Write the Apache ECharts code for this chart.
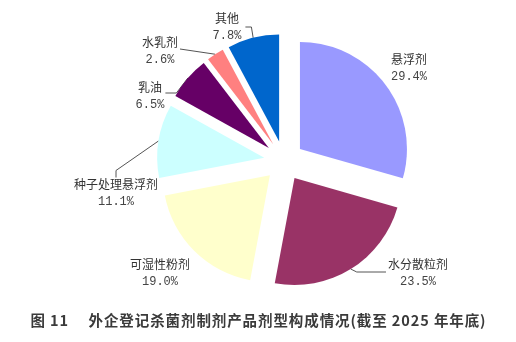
<!DOCTYPE html>
<html><head><meta charset="utf-8">
<script src="https://cdn.jsdelivr.net/npm/echarts@6/dist/echarts.min.js"></script>
<style>html,body{margin:0;padding:0;background:#fff}#c{width:516px;height:342px}</style>
</head><body><div id="c"></div>
<script>
const categories = ['悬浮剂','水分散粒剂','可湿性粉剂','种子处理悬浮剂','乳油','水乳剂','其他'];
const values = [29.4, 23.5, 19.0, 11.1, 6.5, 2.6, 7.8];
const colors = ['#9999ff','#993366','#ffffcc','#ccffff','#660066','#ff8080','#0066cc'];
const titleText = '图 11\u3000 外企登记杀菌剂制剂产品剂型构成情况(截至 2025 年年底)';
// layout only: label centres and which slices have leader lines
const labelCenter = [[409,68],[418,273],[160,273],[116,193],[150,96],[160,51],[227,27]];
const lineShow = [false,true,false,true,true,true,true];
const OFFSET = 20;

const spacedTitle = Array.from(titleText).join('\u200A');

// selected-offset translation of each slice (labels move with their slice)
const total = values.reduce((a,b)=>a+b,0);
const sliceShift = (()=>{let acc=0;return values.map(v=>{const a=(acc+v/2)/total*2*Math.PI;acc+=v;return [OFFSET*Math.sin(a),-OFFSET*Math.cos(a)];});})();

function leader(i, p0, L, R, T, cx, cy){
  switch(i){
    case 1: return [p0,[p0[0]+6,cy-1],[L-2,cy-1]];
    case 3: return [p0,[cx,T-8],[cx,T-1]];
    case 4: return [p0,[R+12,cy-3],[R+1,cy-3]];
    case 5: return [p0,[R+2,cy-2]];
    case 6: return [p0,[R+10,cy],[R+4,cy]];
  }
  return null;
}

const chart = echarts.init(document.getElementById('c'), null, {renderer:'canvas'});
chart.setOption({
  animation:false,
  backgroundColor:'#fff',
  title:{text:spacedTitle,left:'center',top:308,textStyle:{fontFamily:'Noto Sans CJK SC',fontSize:14.5,fontWeight:'bold',color:'#3a3a3a'}},
  series:[{
    type:'pie',
    center:[284,161],
    radius:[0,107],
    startAngle:90,
    clockwise:true,
    selectedMode:'multiple',
    selectedOffset:OFFSET,
    avoidLabelOverlap:false,
    itemStyle:{borderWidth:0},
    label:{
      show:true,
      position:'outside',
      alignTo:'none',
      distanceToLabelLine:0,
      formatter:p=>'{n|'+p.name+'}\n{v|'+p.value.toFixed(1)+'%}',
      rich:{
        n:{fontFamily:'Noto Sans CJK SC',fontSize:12,color:'#333',lineHeight:17,align:'center'},
        v:{fontFamily:'Liberation Mono',fontSize:12,color:'#444',lineHeight:17,align:'center'}
      }
    },
    labelLine:{show:true,length:0,length2:0,lineStyle:{color:'#555',width:1}},
    labelLayout:p=>{
      const i=p.dataIndex, r=p.labelRect, s=sliceShift[i];
      const cx=labelCenter[i][0]-s[0], cy=labelCenter[i][1]-s[1];
      const dx=cx-(r.x+r.width/2), dy=cy-(r.y+r.height/2);
      const L=r.x+dx, R=L+r.width, T=r.y+dy;
      const out={dx:dx,dy:dy};
      if(lineShow[i] && p.labelLinePoints){
        out.labelLinePoints=leader(i,p.labelLinePoints[0],L,R,T,cx,cy);
      }
      return out;
    },
    data:categories.map((n,i)=>({name:n,value:values[i],selected:true,itemStyle:{color:colors[i]},
      labelLine:{show:lineShow[i]}}))
  }]
});
</script></body></html>
